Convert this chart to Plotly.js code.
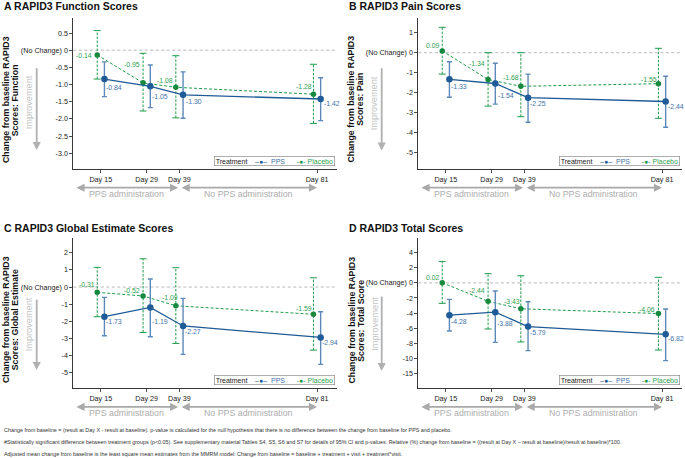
<!DOCTYPE html>
<html>
<head>
<meta charset="utf-8">
<script src="https://cdn.plot.ly/plotly-3.0.1.min.js"></script>
<style>html,body{margin:0;padding:0;background:#fff;}#chart{width:685px;height:458px;}</style>
</head>
<body>
<div id="chart"></div>
<script>
// ---------- data ----------
const days = [15, 29, 39, 81];
const dayLabels = ['Day 15', 'Day 29', 'Day 39', 'Day 81'];

const funcPPS = [-0.84, -1.05, -1.30, -1.42];
const funcPPSLo = [-1.35, -1.67, -1.98, -2.05];
const funcPPSHi = [-0.34, -0.43, -0.63, -0.80];
const funcPlc = [-0.14, -0.95, -1.08, -1.28];
const funcPlcLo = [-0.84, -1.77, -1.97, -2.13];
const funcPlcHi = [0.57, -0.09, -0.16, -0.41];

const painPPS = [-1.33, -1.54, -2.25, -2.44];
const painPPSLo = [-2.23, -2.57, -3.48, -3.73];
const painPPSHi = [-0.45, -0.53, -1.07, -1.18];
const painPlc = [0.09, -1.34, -1.68, -1.55];
const painPlcLo = [-1.07, -2.67, -3.20, -3.28];
const painPlcHi = [1.27, 0.00, 0.00, 0.22];

const globPPS = [-1.73, -1.19, -2.27, -2.94];
const globPPSLo = [-2.84, -2.90, -3.93, -4.51];
const globPPSHi = [-0.60, 0.47, -0.66, -1.44];
const globPlc = [-0.31, -0.52, -1.09, -1.59];
const globPlcLo = [-1.73, -2.65, -3.29, -3.68];
const globPlcHi = [1.15, 1.65, 1.13, 0.54];

const totPPS = [-4.28, -3.88, -5.79, -6.82];
const totPPSLo = [-6.38, -7.88, -8.98, -10.31];
const totPPSHi = [-2.18, -1.08, -2.49, -3.46];
const totPlc = [0.02, -2.44, -3.43, -4.06];
const totPlcLo = [-2.71, -6.11, -7.83, -8.90];
const totPlcHi = [2.85, 1.22, 0.95, 0.74];

const funcTicks = [0.5, 0, -0.5, -1, -1.5, -2, -2.5, -3];
const funcTickText = ['0.5', '(No Change) 0', '-0.5', '-1.0', '-1.5', '-2.0', '-2.5', '-3.0'];
const painTicks = [1, 0, -1, -2, -3, -4, -5];
const painTickText = ['1', '(No Change) 0', '-1', '-2', '-3', '-4', '-5'];
const globTicks = [2, 1, 0, -1, -2, -3, -4, -5];
const globTickText = ['2', '1', '(No Change) 0', '-1', '-2', '-3', '-4', '-5'];
const totTicks = [4, 2, 0, -2, -4, -6, -8, -10, -12];
const totTickText = ['4', '2', '(No Change) 0', '-2', '-4', '-6', '-8', '-10', '-15'];

const periods = ['PPS administration', 'No PPS administration'];
const periodStart = [7.1, 39.2];
const periodEnd = [38.6, 81.0];

const footnotes = [
  'Change from baseline = (result at Day X - result at baseline). p-value is calculated for the null hypothesis that there is no difference between the change from baseline for PPS and placebo.',
  '#Statistically significant difference between treatment groups (p&lt;0.05). See supplementary material Tables S4, S5, S6 and S7 for details of 95% CI and p-values. Relative (%) change from baseline = ((result at Day X \u2013 result at baseline)/result at baseline)*100.',
  'Adjusted mean change from baseline is the least square mean estimates from the MMRM model: Change from baseline = baseline + treatment + visit + treatment*visit.'
];

// ---------- style ----------
const W = 685, H = 458;
const FONT = 'Liberation Sans, Arial, sans-serif';
const C_PPS = '#1f5b97', C_PPS_ERR = '#5d89ba', C_PPS_TXT = '#3f72ab';
const C_PLC = '#1e9b4b', C_PLC_MK = '#17893f', C_PLC_TXT = '#2ea14f';
const GREY = '#a9a9a9';
const DODGE = 1.1;
const px = x => x / W;
const py = y => 1 - y / H;

const panels = [
  {ax: '', title: 'A RAPID3 Function Scores', ytitle: 'Scores: Function',
   box: {l: 73.3, r: 336.7, t: 18.3, b: 169.3}, range: [-3.466, 0.928],
   ticks: funcTicks, tickText: funcTickText,
   pps: funcPPS, ppsLo: funcPPSLo, ppsHi: funcPPSHi, plc: funcPlc, plcLo: funcPlcLo, plcHi: funcPlcHi,
   ppsDx: [2, 1.7, 3, 3.3], ppsDy: [8.4, 9.9, 6.3, 4.3],
   plcDx: [-5.6, -3.3, -2.4, -1.8], plcUp: [0, 18, 6.6, 7.5],
   impr: {x: 36.7, y0: 66.7, y1: 150, tx: 29.3, ty: 102}, ytc: 100, titleY: 6},
  {ax: '2', title: 'B RAPID3 Pain Scores', ytitle: 'Scores: Pain',
   box: {l: 418.3, r: 681.7, t: 18.3, b: 169.3}, range: [-5.83, 1.72],
   ticks: painTicks, tickText: painTickText,
   pps: painPPS, ppsLo: painPPSLo, ppsHi: painPPSHi, plc: painPlc, plcLo: painPlcLo, plcHi: painPlcHi,
   ppsDx: [1.5, 2.4, 2.3, 2.5], ppsDy: [6.7, 12, 5.6, 4.5],
   plcDx: [-2.5, -2.7, -2, -1.7], plcUp: [5.5, 16, 9, 4.7],
   impr: {x: 381.7, y0: 66.7, y1: 150.5, tx: 374.3, ty: 103}, ytc: 99.5, titleY: 6},
  {ax: '3', title: 'C RAPID3 Global Estimate Scores', ytitle: 'Scores: Global Estimate',
   box: {l: 73.3, r: 336.7, t: 238.4, b: 388.5}, range: [-5.92, 2.84],
   ticks: globTicks, tickText: globTickText,
   pps: globPPS, ppsLo: globPPSLo, ppsHi: globPPSHi, plc: globPlc, plcLo: globPlcLo, plcHi: globPlcHi,
   ppsDx: [2, 2, 2.3, 1.5], ppsDy: [4.3, 14, 5.6, 4.6],
   plcDx: [-2.5, -3.3, 2.3, -1.6], plcUp: [8.3, 5, 8, 6.3],
   impr: {x: 36.7, y0: 298.3, y1: 370, tx: 29.3, ty: 324}, ytc: 320, titleY: 227.5},
  {ax: '4', title: 'D RAPID3 Total Scores', ytitle: 'Scores: Total Score',
   box: {l: 418.3, r: 681.7, t: 238.4, b: 388.5}, range: [-14.0, 5.9],
   ticks: totTicks, tickText: totTickText,
   pps: totPPS, ppsLo: totPPSLo, ppsHi: totPPSHi, plc: totPlc, plcLo: totPlcLo, plcHi: totPlcHi,
   ppsDx: [1.5, 2, 2.4, 2.3], ppsDy: [6, 11, 5.6, 4.3],
   plcDx: [-2.7, -2.7, -1, -3.3], plcUp: [5.4, 11, 7.3, 3.7],
   impr: {x: 381.7, y0: 295, y1: 371, tx: 374.3, ty: 323.5}, ytc: 320.5, titleY: 227.5}
];

const traces = [];
const layout = {
  width: W, height: H, margin: {l: 0, r: 0, t: 0, b: 0},
  paper_bgcolor: '#fff', plot_bgcolor: '#fff', showlegend: false,
  font: {family: FONT, size: 7.2, color: '#222'},
  annotations: [], shapes: []
};

panels.forEach(p => {
  const xa = 'x' + p.ax, ya = 'y' + p.ax;
  const b = p.box;
  layout['xaxis' + p.ax] = {
    domain: [px(b.l), px(b.r)], anchor: ya, range: [6.6, 87.0],
    tickmode: 'array', tickvals: days, ticktext: dayLabels,
    ticks: 'outside', ticklen: 3, tickwidth: 0.8, tickcolor: '#222',
    showline: true, linecolor: '#222', linewidth: 0.9,
    showgrid: false, zeroline: false, tickfont: {size: 7.2, color: '#222', family: FONT}
  };
  layout['yaxis' + p.ax] = {
    domain: [py(b.b), py(b.t)], anchor: xa, range: p.range,
    tickmode: 'array', tickvals: p.ticks, ticktext: p.tickText,
    ticks: 'outside', ticklen: 3, tickwidth: 0.8, tickcolor: '#222',
    showline: true, linecolor: '#222', linewidth: 0.9,
    showgrid: false, zeroline: false, tickfont: {size: 7.2, color: '#222', family: FONT}
  };
  // no-change reference line
  layout.shapes.push({type: 'line', xref: xa + ' domain', yref: ya, x0: 0, x1: 1, y0: 0, y1: 0,
    line: {color: '#a6a6a6', width: 0.8, dash: '3px,2.5px'}, layer: 'below'});

  const xPlc = days.map(d => d - DODGE);
  const xPPS = days.map(d => d + DODGE);

  // placebo dashed error bars
  const ex = [], ey = [];
  xPlc.forEach((x, i) => { ex.push(x, x, null); ey.push(p.plcLo[i], p.plcHi[i], null); });
  traces.push({x: ex, y: ey, xaxis: xa, yaxis: ya, mode: 'lines', hoverinfo: 'skip',
    line: {color: C_PLC, width: 1, dash: '2.5px,1.5px'}});
  traces.push({x: xPlc.concat(xPlc), y: p.plcLo.concat(p.plcHi), xaxis: xa, yaxis: ya, mode: 'markers',
    hoverinfo: 'skip', marker: {symbol: 'line-ew', size: 5, color: C_PLC, line: {color: C_PLC, width: 1}}});

  // placebo line + points
  traces.push({x: xPlc, y: p.plc, xaxis: xa, yaxis: ya, mode: 'lines+markers', name: 'Placebo',
    line: {color: C_PLC, width: 1, dash: '3px,2px'},
    marker: {color: C_PLC_MK, size: 5.5}});

  // PPS line + points + error bars
  traces.push({x: xPPS, y: p.pps, xaxis: xa, yaxis: ya, mode: 'lines+markers', name: 'PPS',
    line: {color: C_PPS, width: 1.3},
    marker: {color: C_PPS, size: 6.5},
    error_y: {type: 'data', symmetric: false,
      array: p.ppsHi.map((h, i) => h - p.pps[i]),
      arrayminus: p.ppsLo.map((l, i) => p.pps[i] - l),
      color: C_PPS_ERR, thickness: 1.4, width: 2.5}});

  // value labels (anchored to the data points)
  p.pps.forEach((v, i) => {
    layout.annotations.push({xref: xa, yref: ya, x: xPPS[i], y: v, xanchor: 'left', yanchor: 'middle',
      xshift: p.ppsDx[i] - 1, yshift: -p.ppsDy[i], showarrow: false, text: v.toFixed(2), borderpad: 0,
      font: {size: 6.9, color: C_PPS_TXT, family: FONT}});
  });
  p.plc.forEach((v, i) => {
    layout.annotations.push({xref: xa, yref: ya, x: xPlc[i], y: v, xanchor: 'right', yanchor: 'middle',
      xshift: p.plcDx[i] + 1, yshift: p.plcUp[i], showarrow: false, text: v.toFixed(2), borderpad: 0,
      font: {size: 6.9, color: C_PLC_TXT, family: FONT}});
  });

  // panel title
  layout.annotations.push({xref: 'paper', yref: 'paper', x: px(b.l - 71.6), y: py(p.titleY),
    xanchor: 'left', yanchor: 'middle', showarrow: false, text: '<b>' + p.title + '</b>',
    font: {size: 10.5, color: '#111', family: FONT}});
  // y titles (two lines)
  layout.annotations.push({xref: 'paper', yref: 'paper', x: px(b.l - 67.3), y: py(p.ytc),
    xanchor: 'center', yanchor: 'middle', showarrow: false, textangle: -90,
    text: '<b>Change from baseline RAPID3</b>', font: {size: 8.8, color: '#111', family: FONT}});
  layout.annotations.push({xref: 'paper', yref: 'paper', x: px(b.l - 58), y: py(p.ytc),
    xanchor: 'center', yanchor: 'middle', showarrow: false, textangle: -90,
    text: '<b>' + p.ytitle + '</b>', font: {size: 8.8, color: '#111', family: FONT}});
  // improvement arrow
  layout.annotations.push({xref: 'paper', yref: 'paper', x: px(p.impr.x), y: py(p.impr.y1),
    ax: 0, ay: -(p.impr.y1 - p.impr.y0), axref: 'pixel', ayref: 'pixel', text: '',
    showarrow: true, arrowhead: 2, arrowsize: 0.9, arrowwidth: 1.8, arrowcolor: '#b0b0b0'});
  layout.annotations.push({xref: 'paper', yref: 'paper', x: px(p.impr.tx), y: py(p.impr.ty),
    xanchor: 'center', yanchor: 'middle', showarrow: false, textangle: -90,
    text: 'Improvement', font: {size: 9.2, color: '#c4c4c4', family: FONT}});
  // period arrows
  periods.forEach((name, k) => {
    layout.annotations.push({xref: xa, yref: 'paper', x: periodEnd[k], y: py(b.b + 18.4),
      axref: xa, ax: periodStart[k], ayref: 'pixel', ay: 0, text: '', showarrow: true,
      arrowside: 'end+start', arrowhead: 2, arrowsize: 0.9, arrowwidth: 1.8, arrowcolor: GREY});
    layout.annotations.push({xref: xa, yref: 'paper', x: (periodStart[k] + periodEnd[k]) / 2,
      y: py(b.b + 24.4), xanchor: 'center', yanchor: 'middle', showarrow: false,
      text: name, font: {size: 8.8, color: '#adadad', family: FONT}});
  });
  // legend box
  layout.annotations.push({xref: 'paper', yref: 'paper', x: px(b.r - 1.6), y: py(b.b - 3.4),
    xanchor: 'right', yanchor: 'bottom', showarrow: false,
    bordercolor: '#8c8c8c', borderwidth: 0.7, borderpad: 1, bgcolor: '#fff',
    text: 'Treatment&nbsp;&nbsp;&nbsp;&nbsp;<span style="color:' + C_PPS + '">\u2013\u25CF\u2013</span>&nbsp;&nbsp;<span style="color:' + C_PPS_TXT + '">PPS</span>&nbsp;&nbsp;&nbsp;&nbsp;&nbsp;&nbsp;<span style="color:' + C_PLC + '">-\u25CF-</span><span style="color:' + C_PLC_TXT + '">&nbsp;Placebo</span>',
    font: {size: 7, color: '#222', family: FONT}});
});

// footnotes
const footY = [429.5, 441.5, 453.5];
footnotes.forEach((t, i) => {
  layout.annotations.push({xref: 'paper', yref: 'paper', x: px(2), y: py(footY[i]),
    xanchor: 'left', yanchor: 'middle', showarrow: false, text: t,
    font: {size: 5.4, color: '#333', family: FONT}});
});

Plotly.newPlot('chart', traces, layout, {displayModeBar: false, staticPlot: true});
</script>
</body>
</html>
